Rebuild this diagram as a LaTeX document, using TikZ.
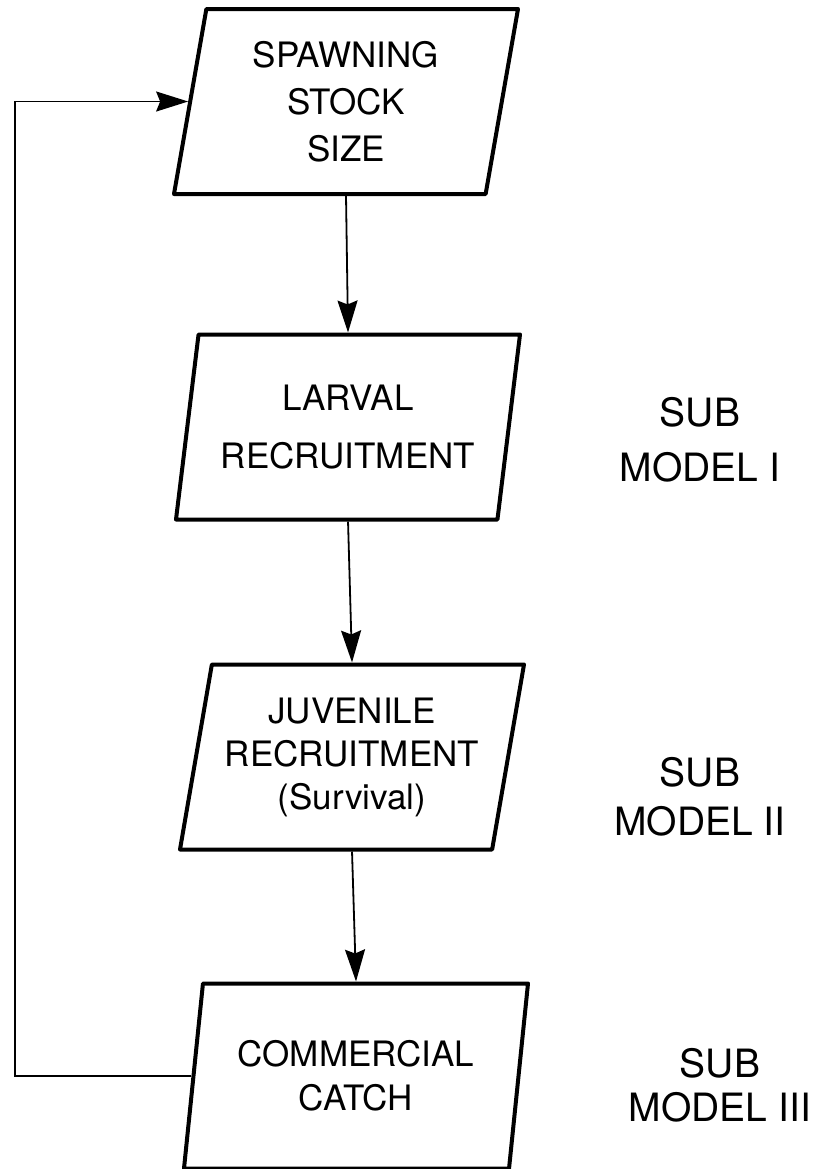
\documentclass[tikz,border=0pt]{standalone}
\usepackage{fontspec}
\setmainfont{TeX Gyre Heros}
\usetikzlibrary{arrows.meta,shapes.geometric}

\begin{document}
\begin{tikzpicture}[x=0.5pt,y=-0.5pt,
  modelbox/.style={draw, line width=2pt, line join=round, trapezium,
    trapezium left angle=75, trapezium right angle=105,
    trapezium stretches body, minimum width=172pt, minimum height=92.5pt,
    inner sep=0pt, align=center},
  flowarrow/.style={line width=0.9pt, -{Stealth[length=16pt,width=10pt,inset=2pt]}},
  sublabel/.style={align=center}]
  \useasboundingbox (0,0) rectangle (823,1169);

  \node[modelbox, font=\fontsize{17.5}{23.5}\selectfont] (spawn) at (346,101.5) {SPAWNING\\STOCK\\SIZE};
  \node[modelbox, font=\fontsize{17.5}{29}\selectfont] (larval) at (348,427) {LARVAL\\RECRUITMENT};
  \node[modelbox, font=\fontsize{17.5}{21.5}\selectfont] (juvenile) at (352,757) {JUVENILE\\RECRUITMENT\\(Survival)};
  \node[modelbox, font=\fontsize{17.5}{22}\selectfont] (catch) at (356,1076) {COMMERCIAL\\CATCH};

  \node[sublabel, font=\fontsize{19.5}{27.5}\selectfont] (subone) at (700,440) {SUB\\MODEL I};
  \node[sublabel, font=\fontsize{19.5}{24.5}\selectfont] (subtwo) at (700,797) {SUB\\MODEL II};
  \node[sublabel, font=\fontsize{19.5}{22}\selectfont] (subthree) at (720,1085) {SUB\\MODEL III};

  \draw[flowarrow] (spawn.south) -- (larval.north);
  \draw[flowarrow] (larval.south) -- (juvenile.north);
  \draw[flowarrow] (juvenile.south) -- (catch.north);

  % feedback loop on the left
  \coordinate (loop) at (15,0);
  \draw[flowarrow] (catch.left side) -| (loop |- spawn.left side) -- (spawn.left side);

\end{tikzpicture}
\end{document}
